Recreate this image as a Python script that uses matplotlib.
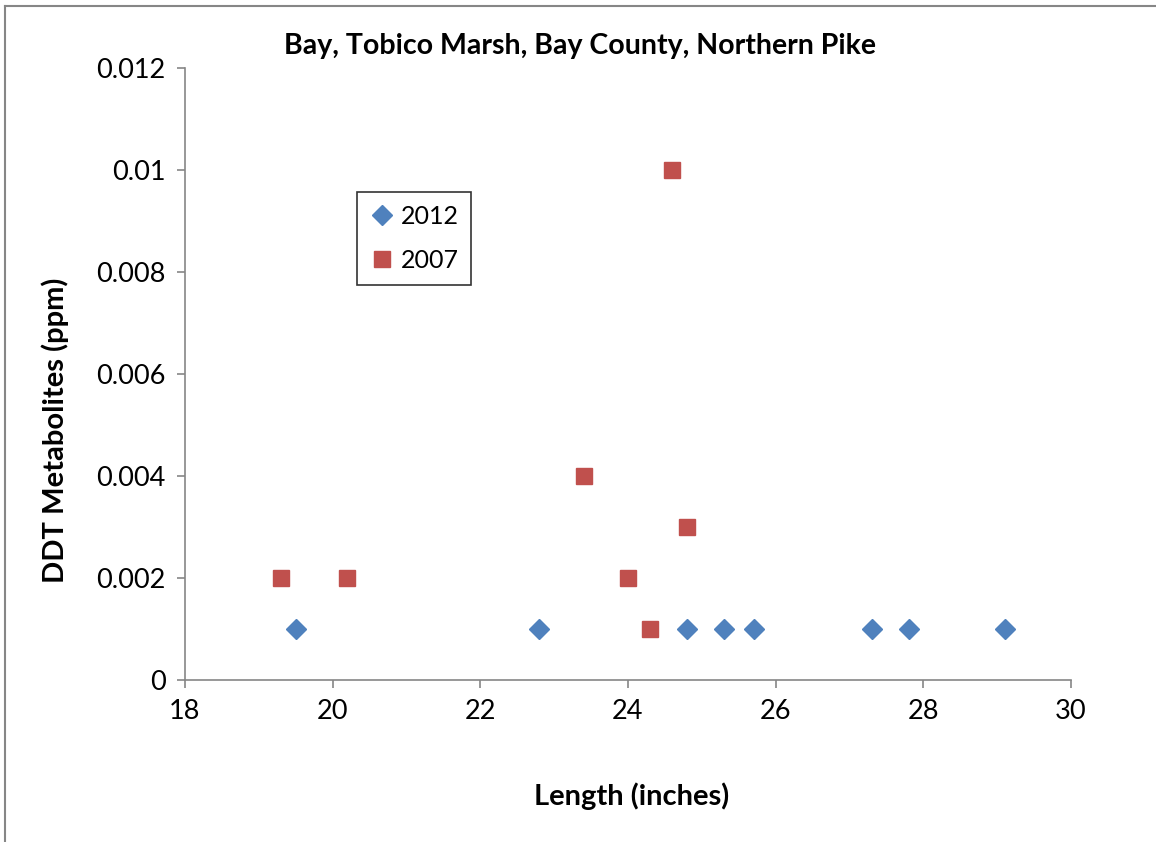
import matplotlib.pyplot as plt
from matplotlib.lines import Line2D

plt.rcParams['font.family'] = ['Lato', 'DejaVu Sans']

# 2012 samples
len_2012 = [19.5, 22.8, 24.8, 25.3, 25.7, 27.3, 27.8, 29.1]
ddt_2012 = [0.001, 0.001, 0.001, 0.001, 0.001, 0.001, 0.001, 0.001]

# 2007 samples
len_2007 = [19.3, 20.2, 23.4, 24.0, 24.3, 24.6, 24.8]
ddt_2007 = [0.002, 0.002, 0.004, 0.002, 0.001, 0.010, 0.003]

x_ticks = [18, 20, 22, 24, 26, 28, 30]
y_ticks = [0, 0.002, 0.004, 0.006, 0.008, 0.01, 0.012]
y_tick_labels = ["0", "0.002", "0.004", "0.006", "0.008", "0.01", "0.012"]

fig = plt.figure(figsize=(11.56, 8.42), dpi=100)
ax = fig.add_axes([0.160, 0.1924, 0.7665, 0.7268])

ax.plot(len_2012, ddt_2012, linestyle="none", marker="D", markersize=10.5,
        color="#4F81BD", label="2012")
ax.plot(len_2007, ddt_2007, linestyle="none", marker="s", markersize=11,
        color="#C0504D", label="2007")

ax.set_xlim(18, 30)
ax.set_ylim(0, 0.012)
ax.set_xticks(x_ticks)
ax.set_yticks(y_ticks)
ax.set_yticklabels(y_tick_labels)
ax.tick_params(axis="both", labelsize=19.5, direction="out", length=6,
               color="#868686", width=1.2, pad=8)

for side in ["top", "right"]:
    ax.spines[side].set_visible(False)
for side in ["left", "bottom"]:
    ax.spines[side].set_color("#868686")
    ax.spines[side].set_linewidth(1.2)

# axis titles and chart title placed like the original Excel layout
fig.text(0.546, 0.054, "Length (inches)", ha="center", va="center",
         fontsize=21, fontweight="bold")
fig.text(0.048, 0.489, "DDT Metabolites (ppm)", ha="center", va="center",
         rotation=90, fontsize=21, fontweight="bold")
fig.text(0.502, 0.945, "Bay, Tobico Marsh, Bay County, Northern Pike",
         ha="center", va="center", fontsize=20.5, fontweight="bold")

leg = ax.legend(loc="upper left", bbox_to_anchor=(0.194, 0.797), fontsize=18,
                frameon=True, fancybox=False, borderpad=0.5, handletextpad=0.25,
                handlelength=1.0, labelspacing=0.85, borderaxespad=0)
leg.get_frame().set_edgecolor("black")
leg.get_frame().set_linewidth(1.2)

# outer chart frame (left and top edges visible)
fig.add_artist(Line2D([0.0045, 0.0045], [0, 0.993], transform=fig.transFigure,
                      color="#868686", linewidth=1.5))
fig.add_artist(Line2D([0.0045, 1.0], [0.993, 0.993], transform=fig.transFigure,
                      color="#868686", linewidth=1.5))

fig.savefig("out.png", dpi=100)
